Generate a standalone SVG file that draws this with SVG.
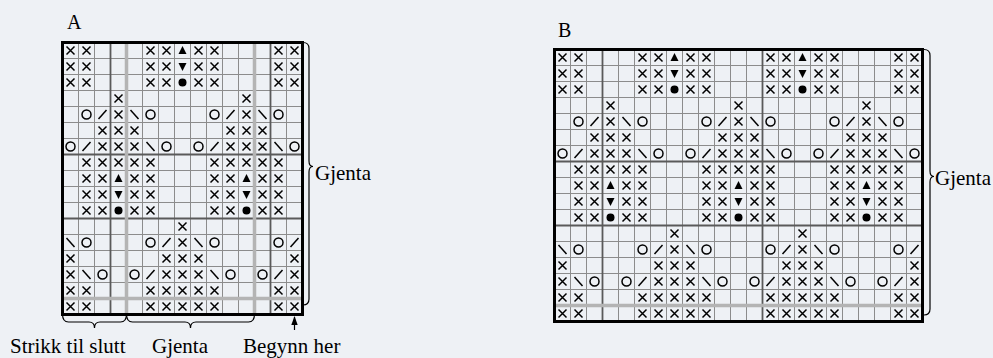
<svg xmlns="http://www.w3.org/2000/svg" width="993" height="358" viewBox="0 0 993 358">
<style>
.bg{fill:#eef1f5}
.grid{fill:none;stroke:#8c8c8c;stroke-width:1}
.dark{fill:none;stroke:#5a5a5a;stroke-width:1.8}
.light{fill:none;stroke:#b4b4b4;stroke-width:3.5}
.border{fill:none;stroke:#000;stroke-width:3}
.sym{fill:none;stroke:#000;stroke-width:1.5}
.fsym{fill:#000}
.brace{fill:none;stroke:#000;stroke-width:1.2}
.lbl{font-family:"Liberation Serif","Times New Roman",serif;font-size:21px;fill:#000}
.ttl{font-family:"Liberation Serif","Times New Roman",serif;font-size:20px;fill:#000}
</style>
<defs>
<g id="x"><path class="sym" d="M4 4L12 12M12 4L4 12"/></g>
<g id="o"><circle class="sym" cx="8" cy="8" r="4.5"/></g>
<g id="s"><path class="sym" d="M4 12.5L12 3.5"/></g>
<g id="b"><path class="sym" d="M4 3.5L12 12.5"/></g>
<g id="t"><path class="fsym" d="M8 3.5L12 11.5H4Z"/></g>
<g id="v"><path class="fsym" d="M4 4.5H12L8 12.5Z"/></g>
<g id="d"><circle class="fsym" cx="8" cy="8" r="4"/></g>
<g id="tile">
<use href="#x" x="0" y="0"/><use href="#x" x="16" y="0"/><use href="#x" x="80" y="0"/><use href="#x" x="96" y="0"/><use href="#t" x="112" y="0"/>
<use href="#x" x="0" y="16"/><use href="#x" x="16" y="16"/><use href="#x" x="80" y="16"/><use href="#x" x="96" y="16"/><use href="#v" x="112" y="16"/>
<use href="#x" x="0" y="32"/><use href="#x" x="16" y="32"/><use href="#x" x="80" y="32"/><use href="#x" x="96" y="32"/><use href="#d" x="112" y="32"/>
<use href="#x" x="48" y="48"/>
<use href="#o" x="16" y="64"/><use href="#s" x="32" y="64"/><use href="#x" x="48" y="64"/><use href="#b" x="64" y="64"/><use href="#o" x="80" y="64"/>
<use href="#x" x="32" y="80"/><use href="#x" x="48" y="80"/><use href="#x" x="64" y="80"/>
<use href="#o" x="0" y="96"/><use href="#s" x="16" y="96"/><use href="#x" x="32" y="96"/><use href="#x" x="48" y="96"/><use href="#x" x="64" y="96"/><use href="#b" x="80" y="96"/><use href="#o" x="96" y="96"/>
<use href="#x" x="16" y="112"/><use href="#x" x="32" y="112"/><use href="#x" x="48" y="112"/><use href="#x" x="64" y="112"/><use href="#x" x="80" y="112"/>
<use href="#x" x="16" y="128"/><use href="#x" x="32" y="128"/><use href="#t" x="48" y="128"/><use href="#x" x="64" y="128"/><use href="#x" x="80" y="128"/>
<use href="#x" x="16" y="144"/><use href="#x" x="32" y="144"/><use href="#v" x="48" y="144"/><use href="#x" x="64" y="144"/><use href="#x" x="80" y="144"/>
<use href="#x" x="16" y="160"/><use href="#x" x="32" y="160"/><use href="#d" x="48" y="160"/><use href="#x" x="64" y="160"/><use href="#x" x="80" y="160"/>
<use href="#x" x="112" y="176"/>
<use href="#b" x="0" y="192"/><use href="#o" x="16" y="192"/><use href="#o" x="80" y="192"/><use href="#s" x="96" y="192"/><use href="#x" x="112" y="192"/>
<use href="#x" x="0" y="208"/><use href="#x" x="96" y="208"/><use href="#x" x="112" y="208"/>
<use href="#x" x="0" y="224"/><use href="#b" x="16" y="224"/><use href="#o" x="32" y="224"/><use href="#o" x="64" y="224"/><use href="#s" x="80" y="224"/><use href="#x" x="96" y="224"/><use href="#x" x="112" y="224"/>
<use href="#x" x="0" y="240"/><use href="#x" x="16" y="240"/><use href="#x" x="80" y="240"/><use href="#x" x="96" y="240"/><use href="#x" x="112" y="240"/>
<use href="#x" x="0" y="256"/><use href="#x" x="16" y="256"/><use href="#x" x="80" y="256"/><use href="#x" x="96" y="256"/><use href="#x" x="112" y="256"/>
</g>
<clipPath id="clipA"><rect x="0" y="0" width="240" height="272"/></clipPath>
<clipPath id="clipB"><rect x="0" y="0" width="368" height="272"/></clipPath>
<marker id="arrow" viewBox="0 0 9 8" refX="8" refY="4" markerWidth="9" markerHeight="8" markerUnits="userSpaceOnUse" orient="auto"><path d="M0 0.8L9 4L0 7.2Z" fill="#000"/></marker>
</defs>
<rect class="bg" x="0" y="0" width="993" height="358"/>

<g id="chartA" transform="translate(62.5,42.5)">
<path class="grid" d="M16 0V272M32 0V272M48 0V272M64 0V272M80 0V272M96 0V272M112 0V272M128 0V272M144 0V272M160 0V272M176 0V272M192 0V272M208 0V272M224 0V272M0 16H240M0 32H240M0 48H240M0 64H240M0 80H240M0 96H240M0 112H240M0 128H240M0 144H240M0 160H240M0 176H240M0 192H240M0 208H240M0 224H240M0 240H240M0 256H240"/>
<path class="dark" d="M48 0V272M208 0V272M0 112H240M0 176H240"/>
<path class="light" d="M64 0V272M192 0V272M0 256H240"/>
<g clip-path="url(#clipA)">
<use href="#tile" x="0" y="0"/>
<use href="#tile" x="128" y="0"/>
</g>
<rect class="border" x="0" y="0" width="240" height="272"/>
</g>

<g id="chartB" transform="translate(554.5,49.5)">
<path class="grid" d="M16 0V272M32 0V272M48 0V272M64 0V272M80 0V272M96 0V272M112 0V272M128 0V272M144 0V272M160 0V272M176 0V272M192 0V272M208 0V272M224 0V272M240 0V272M256 0V272M272 0V272M288 0V272M304 0V272M320 0V272M336 0V272M352 0V272M0 16H368M0 32H368M0 48H368M0 64H368M0 80H368M0 96H368M0 112H368M0 128H368M0 144H368M0 160H368M0 176H368M0 192H368M0 208H368M0 224H368M0 240H368M0 256H368"/>
<path class="dark" d="M48 0V272M208 0V272M0 112H368M0 176H368"/>
<path class="light" d="M0 256H368"/>
<g clip-path="url(#clipB)">
<use href="#tile" x="0" y="0"/>
<use href="#tile" x="128" y="0"/>
<use href="#tile" x="256" y="0"/>
</g>
<rect class="border" x="0" y="0" width="368" height="272"/>
</g>

<g id="labelA"><text class="ttl" x="67" y="29">A</text></g>
<g id="labelB"><text class="ttl" x="558" y="37">B</text></g>

<g id="connectors">
<path class="brace" d="M303 42.5Q309 42.5 309 48.5L309 161Q309 166.5 313 166.5Q309 166.5 309 172L309 299Q309 305 303 305"/>
<path class="brace" d="M924 49.5Q930 49.5 930 55.5L930 171Q930 176.5 934 176.5Q930 176.5 930 182L930 309Q930 315 924 315"/>
<path class="brace" d="M62.5 314Q62.5 322 68.5 322L89 322Q94.5 322 94.5 328Q94.5 322 100 322L120.5 322Q126.5 322 126.5 314"/>
<path class="brace" d="M126.5 314Q126.5 322 132.5 322L185 322Q190.5 322 190.5 328Q190.5 322 196 322L248.5 322Q254.5 322 254.5 314"/>
<path class="brace" d="M294.5 330V317" marker-end="url(#arrow)"/>
</g>

<g id="textsA">
<text class="lbl" x="315" y="180">Gjenta</text>
<text class="lbl" x="10" y="353">Strikk til slutt</text>
<text class="lbl" x="152" y="353">Gjenta</text>
<text class="lbl" x="243" y="353">Begynn her</text>
</g>
<g id="textsB">
<text class="lbl" x="935" y="185">Gjenta</text>
</g>
</svg>
